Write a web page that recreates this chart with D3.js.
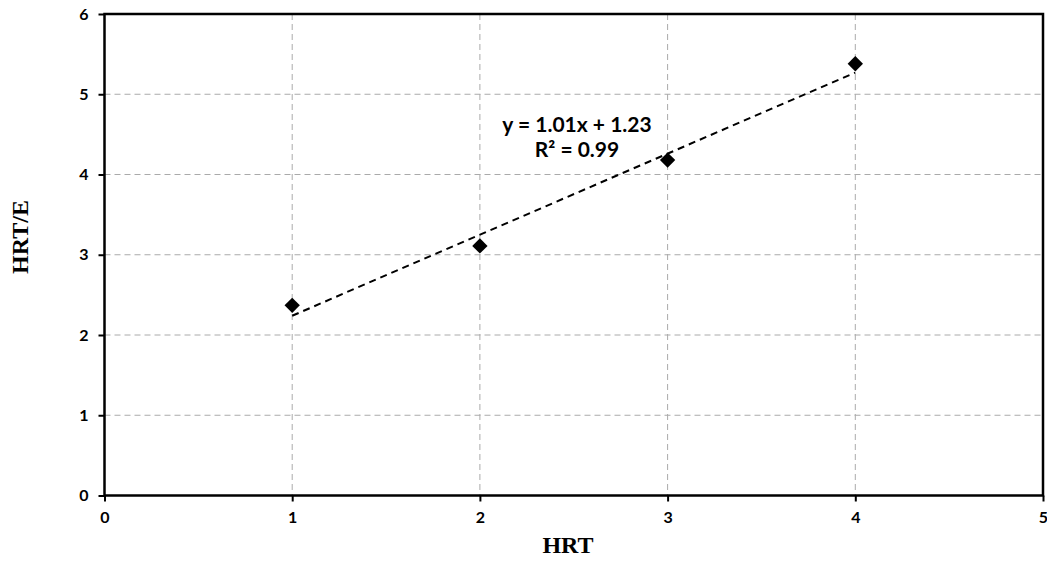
<!DOCTYPE html>
<html><head><meta charset="utf-8">
<script src="https://cdn.jsdelivr.net/npm/d3@7"></script>
<style>body{margin:0;background:#fff}</style>
</head><body>
<svg id="c" width="1047" height="561"></svg>
<script>
const xValues = [1, 2, 3, 4];
const yValues = [2.37, 3.11, 4.18, 5.38];
const xTicks = [0, 1, 2, 3, 4, 5];
const yTicks = [0, 1, 2, 3, 4, 5, 6];
const slope = 1.01, intercept = 1.23;
const eqLabel = "y = 1.01x + 1.23";
const r2Label = "R² = 0.99";

const svg = d3.select("#c");
const L = 104.5, R = 1043, T = 14, B = 495.5;
const x = d3.scaleLinear().domain([0, 5]).range([L, R]);
const y = d3.scaleLinear().domain([0, 6]).range([B, T]);
const tickFont = "Lato, 'Open Sans', sans-serif";

// gridlines
svg.append("g").selectAll("line").data(yTicks.slice(1, -1)).join("line")
  .attr("x1", L).attr("x2", R).attr("y1", d => y(d)).attr("y2", d => y(d))
  .attr("stroke", "#aaa").attr("stroke-width", 1).attr("stroke-dasharray", "6,4");
svg.append("g").selectAll("line").data(xTicks.slice(1, -1)).join("line")
  .attr("y1", T).attr("y2", B).attr("x1", d => x(d)).attr("x2", d => x(d))
  .attr("stroke", "#aaa").attr("stroke-width", 1).attr("stroke-dasharray", "6,4");

// axes
const xAxis = svg.append("g").attr("transform", `translate(0,${B})`)
  .call(d3.axisBottom(x).tickValues(xTicks).tickSize(6).tickPadding(10).tickFormat(d3.format("d")));
const yAxis = svg.append("g").attr("transform", `translate(${L},0)`)
  .call(d3.axisLeft(y).tickValues(yTicks).tickSize(6).tickPadding(10).tickFormat(d3.format("d")));
[xAxis, yAxis].forEach(a => {
  a.select(".domain").remove();
  a.selectAll(".tick line").attr("stroke", "#000").attr("stroke-width", 2);
  a.selectAll("text").attr("font-family", tickFont).attr("font-weight", "bold")
    .attr("font-size", 16).attr("fill", "#000");
});
// frame
svg.append("rect").attr("x", L).attr("y", T).attr("width", R - L).attr("height", B - T)
  .attr("fill", "none").attr("stroke", "#000").attr("stroke-width", 2.5);

// trendline
svg.append("line")
  .attr("x1", x(xValues[0])).attr("y1", y(slope * xValues[0] + intercept))
  .attr("x2", x(xValues[xValues.length - 1])).attr("y2", y(slope * xValues[xValues.length - 1] + intercept))
  .attr("stroke", "#000").attr("stroke-width", 2).attr("stroke-dasharray", "7,5");

// points
svg.append("g").selectAll("path").data(xValues.map((v, i) => [v, yValues[i]])).join("path")
  .attr("d", d3.symbol().type(d3.symbolDiamond2).size(150))
  .attr("transform", d => `translate(${x(d[0])},${y(d[1])})`)
  .attr("fill", "#000");

// equation
const eq = svg.append("text").attr("text-anchor", "middle")
  .attr("font-family", tickFont).attr("font-weight", "bold").attr("font-size", 21).attr("fill", "#000");
eq.append("tspan").attr("x", 577).attr("y", 132).text(eqLabel);
eq.append("tspan").attr("x", 577).attr("y", 157).text(r2Label);

// axis titles
svg.append("text").attr("x", 568).attr("y", 553).attr("text-anchor", "middle")
  .attr("font-family", "'Liberation Serif', serif").attr("font-weight", "bold").attr("font-size", 24)
  .text("HRT");
svg.append("text").attr("transform", `translate(28,237) rotate(-90)`).attr("text-anchor", "middle")
  .attr("font-family", "'Liberation Serif', serif").attr("font-weight", "bold").attr("font-size", 24)
  .text("HRT/E");
</script>
</body></html>
